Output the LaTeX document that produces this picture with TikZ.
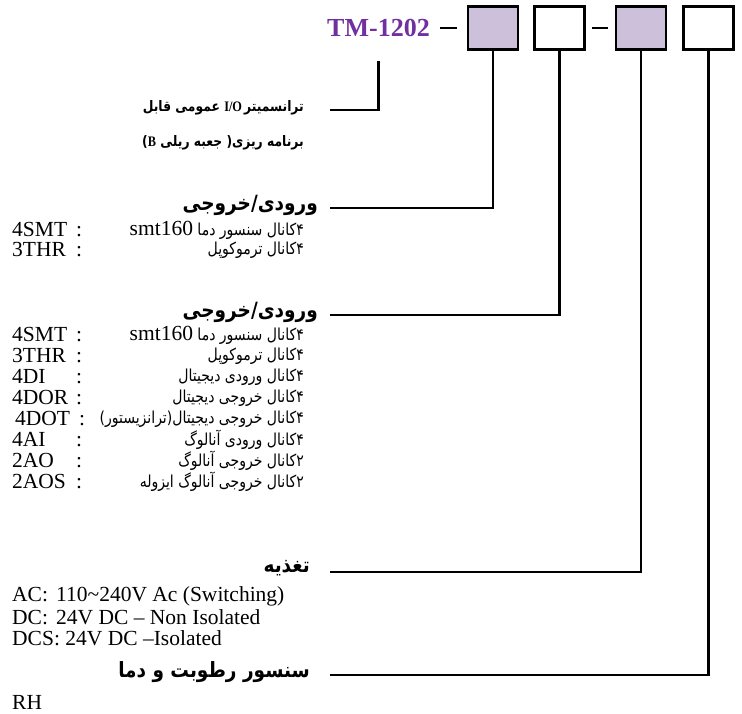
\documentclass[tikz,border=0pt]{standalone}
\usepackage{fontspec}
\setmainfont{Liberation Serif}
\newfontfamily\farsi[Script=Arabic]{DejaVu Sans}
\TeXXeTstate=1
\usetikzlibrary{positioning}

\definecolor{tmpurple}{HTML}{7030A0}
\definecolor{boxlilac}{HTML}{CCC0DA}

% persian text, right to left and a little narrowed; latin words inside it
\newcommand{\fa}[2][0.85]{\scalebox{#1}[1]{\farsi\beginR #2\endR}}
\newcommand{\la}[1]{\beginL{\rmfamily #1}\endL}
\newcommand{\sep}{\kern0pt}
\newcommand{\cod}[1]{\makebox[64pt][l]{#1}:}
\newcommand{\pwr}[1]{\makebox[44pt][l]{#1}}
\newcommand{\smt}{\la{\scalebox{1.176}[1]{\fontsize{21.5}{23}\selectfont smt160}}}

\tikzset{
    codebox/.style={draw, line width=2.6pt, minimum width=50pt, minimum height=43.5pt, inner sep=0pt},
    wire/.style={line width=2.2pt},
    title/.style={anchor=east, inner sep=0pt, font=\fontsize{14.5}{16}\selectfont\bfseries},
    heading/.style={anchor=east, inner sep=0pt, font=\fontsize{21}{23}\selectfont\bfseries},
    item/.style={anchor=east, inner sep=0pt, font=\fontsize{16.5}{18}\selectfont},
    code/.style={anchor=west, inner sep=0pt, font=\fontsize{21.5}{23}\selectfont}
}

\begin{document}
\begin{tikzpicture}[x=1pt, y=-1pt]
        \useasboundingbox (0,0) rectangle (742,714);

        % model code
        \node[inner sep=0pt, text=tmpurple, font=\fontsize{26}{28}\selectfont\bfseries] (tm) at (378.5,28) {TM-1202};
        \node[inner sep=0pt] (dash1) at (448.5,28) {\rule[-1.3pt]{17pt}{2.6pt}};
        \node[codebox, fill=boxlilac] (box1) at (493,28) {};
        \node[codebox] (box2) at (559.5,28) {};
        \node[inner sep=0pt] (dash2) at (600,28) {\rule[-1.3pt]{16pt}{2.6pt}};
        \node[codebox, fill=boxlilac] (box3) at (641,28) {};
        \node[codebox] (box4) at (708.5,28) {};

        % ends of the leader lines
        \coordinate (end0) at (330,110);
        \coordinate (end1) at (330,208);
        \coordinate (end2) at (330,315);
        \coordinate (end3) at (330,572);
        \coordinate (end4) at (330,675);

        % product name
        \node[title, left=26pt of end0, yshift=2pt] (name1) {\fa{ترانسمیتر\,\la{I/O} عمومی قابل}};
        \node[title] (name2) at (304,143) {\fa{برنامه ریزی\sep(\ جعبه ریلی \la{B}\sep)}};

        % first input/output slot
        \node[heading, left=12pt of end1, yshift=3pt] (head1) {\fa[0.88]{ورودی/خروجی}};
        \node[item] (ioa1) at (304,230) {\fa{۴\sep کانال سنسور دما \smt}};
        \node[item] (ioa2) at (304,250) {\fa{۴\sep کانال ترموکوپل}};
        \node[code] (coa1) at (12,230) {\cod{4SMT}};
        \node[code] (coa2) at (12,250) {\cod{3THR}};

        % second input/output slot
        \node[heading, left=12pt of end2, yshift=3pt] (head2) {\fa[0.88]{ورودی/خروجی}};
        \node[item] (iob1) at (304,335) {\fa{۴\sep کانال سنسور دما \smt}};
        \node[item] (iob2) at (304,356) {\fa{۴\sep کانال ترموکوپل}};
        \node[item] (iob3) at (304,377) {\fa{۴\sep کانال ورودی دیجیتال}};
        \node[item] (iob4) at (304,398) {\fa{۴\sep کانال خروجی دیجیتال}};
        \node[item] (iob5) at (304,419) {\fa{۴\sep کانال خروجی دیجیتال\sep(\sep ترانزیستور\sep)}};
        \node[item] (iob6) at (304,440) {\fa{۴\sep کانال ورودی آنالوگ}};
        \node[item] (iob7) at (304,461) {\fa{۲\sep کانال خروجی آنالوگ}};
        \node[item] (iob8) at (304,482) {\fa{۲\sep کانال خروجی آنالوگ ایزوله}};
        \node[code] (cob1) at (12,335) {\cod{4SMT}};
        \node[code] (cob2) at (12,356) {\cod{3THR}};
        \node[code] (cob3) at (12,377) {\cod{4DI}};
        \node[code] (cob4) at (12,398) {\cod{4DOR}};
        \node[code] (cob5) at (15,419) {\cod{4DOT}};
        \node[code] (cob6) at (12,440) {\cod{4AI}};
        \node[code] (cob7) at (12,461) {\cod{2AO}};
        \node[code] (cob8) at (12,482) {\cod{2AOS}};

        % supply
        \node[heading, left=20pt of end3, yshift=4pt] (head3) {\fa[0.88]{تغذیه}};
        \node[code] (pw1) at (12,596) {\pwr{AC:}110\textasciitilde240V Ac (Switching)};
        \node[code] (pw2) at (12,617) {\pwr{DC:}24V DC – Non Isolated};
        \node[code] (pw3) at (12,638) {DCS: 24V DC –Isolated};

        % sensor
        \node[heading, left=20pt of end4, yshift=3pt] (head4) {\fa[0.88]{سنسور رطوبت و دما}};
        \node[code] (rh) at (12,702) {RH};

        \draw[wire, shorten <=24pt] (tm.south) |- (end0);
        \draw[wire] (box1.south) |- (end1);
        \draw[wire] (box2.south) |- (end2);
        \draw[wire] (box3.south) |- (end3);
        \draw[wire] (box4.south) |- (end4);
    \end{tikzpicture}
\end{document}
